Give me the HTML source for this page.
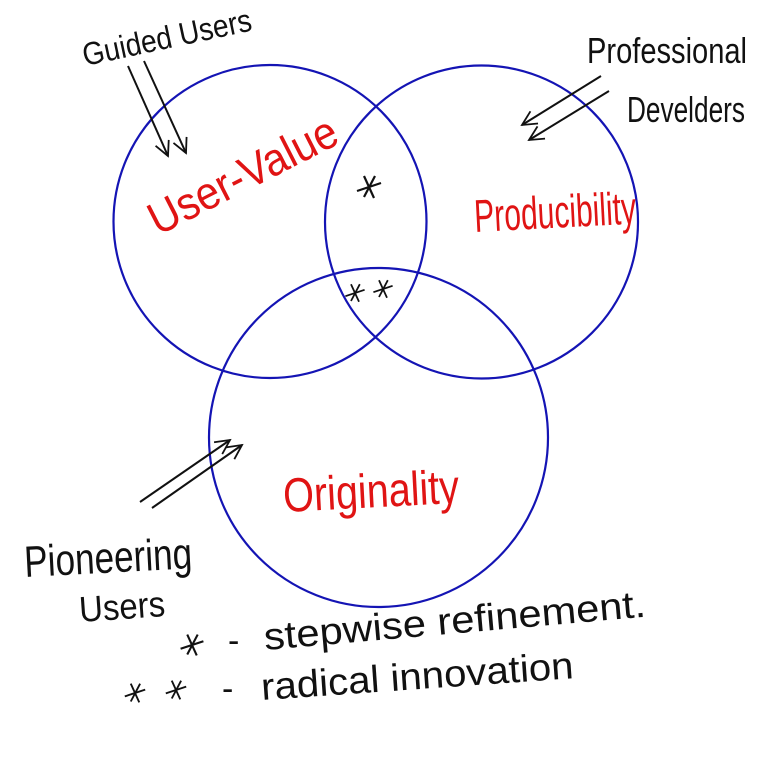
<!DOCTYPE html>
<html><head><meta charset="utf-8"><style>
html,body{margin:0;padding:0;background:#fff;}
svg{display:block;}
text{font-family:"Liberation Sans","DejaVu Sans",sans-serif;}
</style></head><body>
<svg width="757" height="763" viewBox="0 0 757 763" xmlns="http://www.w3.org/2000/svg">
<defs>
<marker id="ah" viewBox="0 0 20 20" refX="18" refY="10" markerWidth="18" markerHeight="18" orient="auto" markerUnits="userSpaceOnUse">
<path d="M2,2 L18,10 L2,18" fill="none" stroke="#111" stroke-width="2"/>
</marker>
<g id="star"><line x1="-12" y1="4" x2="12" y2="-4"/><line x1="-5" y1="-11" x2="5" y2="11"/><line x1="6" y1="-11" x2="-5" y2="10"/></g>
</defs>
<rect width="757" height="763" fill="#fff"/>
<g fill="none" stroke="#1414b4" stroke-width="2.2">
<circle cx="270" cy="221.5" r="156.5"/>
<circle cx="481.5" cy="222" r="156.5"/>
<circle cx="378.5" cy="437.5" r="169.5"/>
</g>
<g stroke="#111" stroke-width="2" fill="none" marker-end="url(#ah)">
<line x1="128" y1="66" x2="168" y2="156"/>
<line x1="144" y1="61" x2="186" y2="153"/>
<line x1="601" y1="76" x2="522" y2="125"/>
<line x1="609" y1="91" x2="529" y2="140"/>
<line x1="140" y1="502" x2="230" y2="440"/>
<line x1="152" y1="508" x2="242" y2="445"/>
</g>
<g stroke="#111" stroke-width="2.2" fill="none">
<use href="#star" transform="translate(369,187)"/>
<use href="#star" transform="translate(355,293) scale(0.8)"/>
<use href="#star" transform="translate(383,289) scale(0.8)"/>
<use href="#star" transform="translate(192,645) scale(0.95)"/>
<use href="#star" transform="translate(135,693) scale(0.85)"/>
<use href="#star" transform="translate(176,690) scale(0.85)"/>
</g>
<g fill="#111">
<text x="85" y="66" font-size="32" textLength="172" lengthAdjust="spacingAndGlyphs" transform="rotate(-12 85 66)">Guided Users</text>
<text x="587" y="63" font-size="36" textLength="160" lengthAdjust="spacingAndGlyphs">Professional</text>
<text x="627" y="122" font-size="36" textLength="118" lengthAdjust="spacingAndGlyphs">Develders</text>
<text x="25" y="577" font-size="44" textLength="168" lengthAdjust="spacingAndGlyphs" transform="rotate(-3 25 577)">Pioneering</text>
<text x="80" y="622" font-size="36" textLength="86" lengthAdjust="spacingAndGlyphs" transform="rotate(-4 80 622)">Users</text>
<text x="228" y="652" font-size="34">-</text>
<text x="265" y="650" font-size="38" textLength="383" lengthAdjust="spacingAndGlyphs" transform="rotate(-5 265 650)">stepwise refinement.</text>
<text x="222" y="700" font-size="34">-</text>
<text x="262" y="700" font-size="38" textLength="313" lengthAdjust="spacingAndGlyphs" transform="rotate(-4 262 700)">radical innovation</text>
</g>
<g fill="#e01414">
<text x="158" y="236" font-size="46" textLength="206" lengthAdjust="spacingAndGlyphs" transform="rotate(-27 158 236)">User-Value</text>
<text x="475" y="232" font-size="46" textLength="162" lengthAdjust="spacingAndGlyphs" transform="rotate(-3 475 232)">Producibility</text>
<text x="284" y="512" font-size="48" textLength="176" lengthAdjust="spacingAndGlyphs" transform="rotate(-3 284 512)">Originality</text>
</g>
</svg>
</body></html>
